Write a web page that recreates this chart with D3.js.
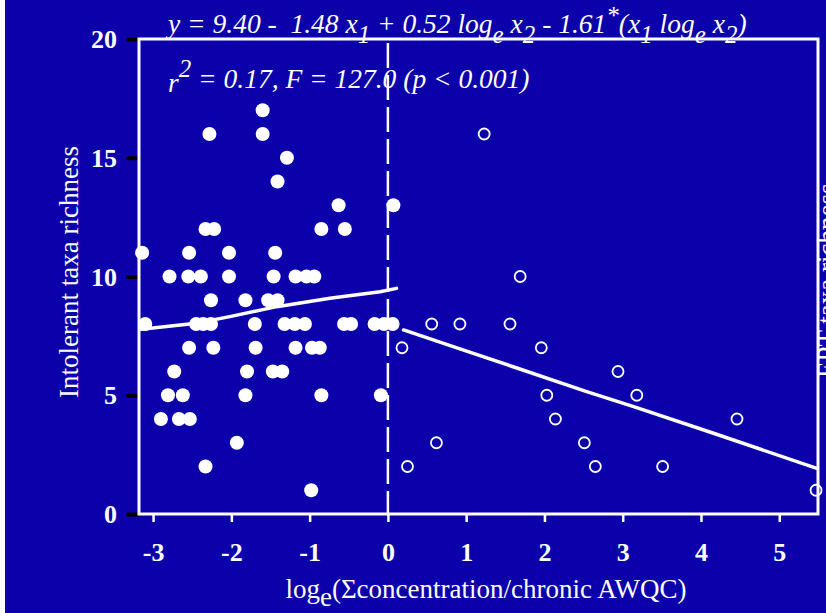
<html>
  <head>
    <meta charset="utf-8">
    <script src="https://d3js.org/d3.v7.min.js"></script>
    <style>
      body { margin: 0; background: #fff; }
      svg { font-family: "Liberation Serif", "Times New Roman", serif; }
      .tick text { fill: #fff; font-weight: bold; font-size: 26px; font-family: "Liberation Serif", "Times New Roman", serif; }
      .eq { fill: #fff; font-style: italic; font-size: 27.5px; white-space: pre; }
      .lab { fill: #fff; font-size: 27px; }
    </style>
  </head>
  <body>
    <div id="chart"></div>
    <script>
// filled circles (left of 0)
var filledX = [-1.60, -2.28, -1.60, -1.29, -1.41, -0.63, 0.07,
  -2.33, -2.22, -0.85, -0.55, -3.14, -2.54, -2.03, -1.44,
  -2.79, -2.55, -2.39, -2.03, -1.46, -1.18, -1.04, -0.94,
  -2.26, -1.82, -1.53, -1.41,
  -3.10, -2.45, -2.36, -2.26, -1.70, -1.32, -1.19, -1.06, -0.56, -0.47, -0.17, -0.05, 0.06,
  -2.54, -2.23, -1.69, -1.18, -0.97, -0.87,
  -2.73, -1.80, -1.47, -1.35,
  -2.81, -2.62, -1.82, -0.85, -0.09,
  -2.90, -2.67, -2.53, -1.93, -2.33, -0.98];
var filledY = [17, 16, 16, 15, 14, 13, 13,
  12, 12, 12, 12, 11, 11, 11, 11,
  10, 10, 10, 10, 10, 10, 10, 10,
  9, 9, 9, 9,
  8, 8, 8, 8, 8, 8, 8, 8, 8, 8, 8, 8, 8,
  7, 7, 7, 7, 7, 7,
  6, 6, 6, 6,
  5, 5, 5, 5, 5,
  4, 4, 4, 3, 2, 1];

// open circles (right of 0)
var openX = [1.23, 1.69, 0.56, 0.92, 1.56, 0.18, 1.96, 2.94, 2.03, 3.18, 2.14, 4.46, 0.62, 2.51, 0.25, 2.65, 3.51, 5.47];
var openY = [16, 10, 8, 8, 8, 7, 7, 6, 5, 5, 4, 4, 3, 3, 2, 2, 2, 1];

// fitted lines
var fitLeftX = [-3.15, -2.45, -2.02, -1.42, -0.74, -0.10, 0.11];
var fitLeftY = [7.78, 8.03, 8.31, 8.73, 9.08, 9.36, 9.50];
var fitRightX = [0.20, 0.92, 1.60, 2.54, 3.14, 4.16, 5.48];
var fitRightY = [7.75, 6.95, 6.20, 5.15, 4.52, 3.40, 1.92];

var xTicks = [-3, -2, -1, 0, 1, 2, 3, 4, 5];
var yTicks = [0, 5, 10, 15, 20];

var W = 826, H = 613;
var bg = "#0b00aa";

var svg = d3.select("#chart").append("svg")
  .attr("width", W)
  .attr("height", H);

svg.append("rect").attr("width", W).attr("height", H).attr("fill", bg);
svg.append("rect").attr("width", 5).attr("height", H).attr("fill", "#fff");

var x = d3.scaleLinear().domain([-3.18, 5.495]).range([139, 818]);
var y = d3.scaleLinear().domain([0, 20]).range([514, 39]);

/* axes */
var yAxis = svg.append("g")
  .attr("transform", "translate(139,0)")
  .call(d3.axisLeft(y).tickValues(yTicks).tickSize(11).tickPadding(11).tickFormat(d => String(d)));
yAxis.select(".domain").remove();
yAxis.selectAll("line").attr("stroke", "#000").attr("stroke-width", 4).attr("stroke-linecap", "round");
yAxis.selectAll("text").attr("dy", "0.33em");

var xAxis = svg.append("g")
  .attr("transform", "translate(0,514)")
  .call(d3.axisBottom(x).tickValues(xTicks).tickSize(8).tickFormat(d => String(d)));
xAxis.select(".domain").remove();
xAxis.selectAll("line").attr("stroke", "#fff").attr("stroke-width", 2.5);
xAxis.selectAll("text").attr("y", 47).attr("dy", null);

/* frame */
svg.append("rect")
  .attr("x", 139).attr("y", 39)
  .attr("width", 679).attr("height", 475)
  .attr("fill", "none")
  .attr("stroke", "#fff")
  .attr("stroke-width", 3);

/* dashed line at 0 */
svg.append("line")
  .attr("x1", x(0)).attr("x2", x(0))
  .attr("y1", y(20)).attr("y2", y(0))
  .attr("stroke", "#fff")
  .attr("stroke-width", 2.5)
  .attr("stroke-dasharray", "25,7")
  .attr("stroke-dashoffset", 28);

/* fit lines */
var line = d3.line().x(d => x(d[0])).y(d => y(d[1]));
svg.append("path")
  .attr("d", line(d3.zip(fitLeftX, fitLeftY)))
  .attr("fill", "none").attr("stroke", "#fff").attr("stroke-width", 3.5)
  .attr("stroke-linecap", "round");
svg.append("path")
  .attr("d", line(d3.zip(fitRightX, fitRightY)))
  .attr("fill", "none").attr("stroke", "#fff").attr("stroke-width", 3.5)
  .attr("stroke-linecap", "round");

/* points */
svg.append("g").selectAll("circle")
  .data(d3.zip(filledX, filledY)).enter()
  .append("circle")
  .attr("cx", d => x(d[0]))
  .attr("cy", d => y(d[1]))
  .attr("r", 7)
  .attr("fill", "#fff");

svg.append("g").selectAll("circle")
  .data(d3.zip(openX, openY)).enter()
  .append("circle")
  .attr("cx", d => x(d[0]))
  .attr("cy", d => y(d[1]))
  .attr("r", 5.5)
  .attr("fill", "none")
  .attr("stroke", "#fff")
  .attr("stroke-width", 1.8);

/* equation text: [text, kind, shift] where kind is n, sub or sup */
function richText(sel, parts) {
  var shift = 0;
  parts.forEach(function(p) {
    var target = p[2] != null ? p[2] : p[1] == "sub" ? 10 : p[1] == "sup" ? -16 : 0;
    var t = sel.append("tspan").attr("dy", target - shift).text(p[0]);
    if (p[1] != "n") t.style("font-size", "25px");
    shift = target;
  });
}

var eq1 = svg.append("text").attr("class", "eq").attr("x", 168).attr("y", 33);
richText(eq1, [
  ["y = 9.40 -  1.48 x", "n"], ["1", "sub"], [" + 0.52 log", "n"], ["e", "sub"],
  [" x", "n"], ["2", "sub"], [" - 1.61", "n"], ["*", "sup", -9], ["(x", "n"], ["1", "sub"],
  [" log", "n"], ["e", "sub"], [" x", "n"], ["2", "sub"], [")", "n"]
]);

var eq2 = svg.append("text").attr("class", "eq").attr("x", 168).attr("y", 88);
richText(eq2, [
  ["r", "n", 4], ["2", "sup", -11], [" = 0.17, F = 127.0 (p < 0.001)", "n", 0]
]);

/* axis titles */
svg.append("text")
  .attr("class", "lab")
  .attr("transform", "translate(78,272) rotate(-90)")
  .attr("text-anchor", "middle")
  .text("Intolerant taxa richness");

var xt = svg.append("text")
  .attr("class", "lab")
  .attr("x", 486).attr("y", 598)
  .attr("text-anchor", "middle");
xt.append("tspan").text("log");
xt.append("tspan").attr("dy", 8).text("e");
xt.append("tspan").attr("dy", -8).text("(\u03A3concentration/chronic AWQC)");

svg.append("text")
  .attr("class", "lab")
  .attr("transform", "translate(836,378) rotate(-90)")
  .text("EPT taxa richness");
    </script>
  </body>
</html>
